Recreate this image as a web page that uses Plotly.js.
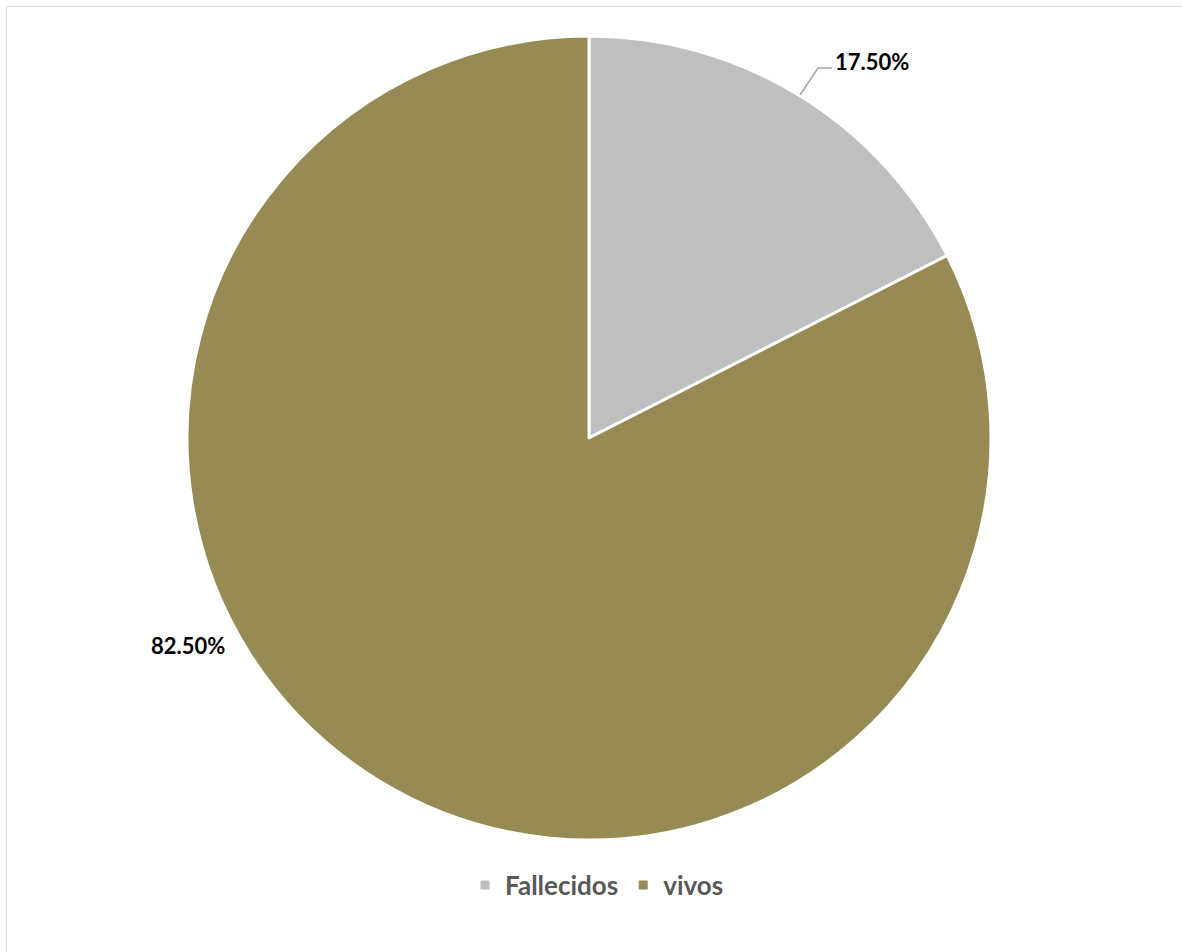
<!DOCTYPE html>
<html>
<head>
<meta charset="utf-8">
<script src="https://cdn.plot.ly/plotly-3.0.1.min.js"></script>
<style>
  html, body { margin:0; padding:0; background:#fff; }
  #wrap { position:relative; width:1182px; height:952px; overflow:hidden; }
  #frame { position:absolute; left:6px; top:6px; width:1300px; height:1100px;
           border-top:1.5px solid #D9D9D9; border-left:1.5px solid #D9D9D9; pointer-events:none; }
  #chart { position:absolute; left:0; top:0; width:1182px; height:952px; }
</style>
</head>
<body>
<div id="wrap">
  <div id="chart"></div>
  <div id="frame"></div>
</div>
<script>
const categories = ['Fallecidos', 'vivos'];
const values = [17.5, 82.5];
const colors = ['#BFBFBF', '#968B54'];

const W = 1182, H = 952;
const px = x => x / W;
const py = y => 1 - y / H;

const labels = values.map(v => v.toFixed(2) + '%');

const data = [{
  type: 'pie',
  labels: categories,
  values: values,
  sort: false,
  direction: 'clockwise',
  rotation: 0,
  textinfo: 'none',
  hoverinfo: 'label+percent',
  marker: { colors: colors, line: { color: '#FFFFFF', width: 3 } },
  domain: { x: [px(187), px(991)], y: [py(840), py(36)] }
}];

const labelFont = { family: 'Lato, Carlito, sans-serif', size: 22, color: '#000000', weight: 'bold' };

const layout = {
  width: W, height: H,
  margin: { l: 0, r: 0, t: 0, b: 0 },
  paper_bgcolor: 'rgba(0,0,0,0)',
  showlegend: true,
  legend: {
    orientation: 'h',
    x: px(597), xanchor: 'center',
    y: py(885), yanchor: 'middle',
    font: { family: 'Lato, Carlito, sans-serif', size: 26, color: '#595959', weight: 'bold' },
    itemclick: false
  },
  annotations: [
    { xref: 'paper', yref: 'paper', x: px(872), y: py(62), text: labels[0], showarrow: false,
      font: labelFont, xanchor: 'center', yanchor: 'middle' },
    { xref: 'paper', yref: 'paper', x: px(188), y: py(645), text: labels[1], showarrow: false,
      font: labelFont, xanchor: 'center', yanchor: 'middle' }
  ],
  shapes: [
    { type: 'path', xref: 'paper', yref: 'paper',
      path: `M ${px(800)} ${py(95)} L ${px(818)} ${py(68)} L ${px(832)} ${py(68)}`,
      line: { color: '#A6A6A6', width: 1.5 } }
  ]
};

Plotly.newPlot('chart', data, layout, { displayModeBar: false, staticPlot: true });
</script>
</body>
</html>
